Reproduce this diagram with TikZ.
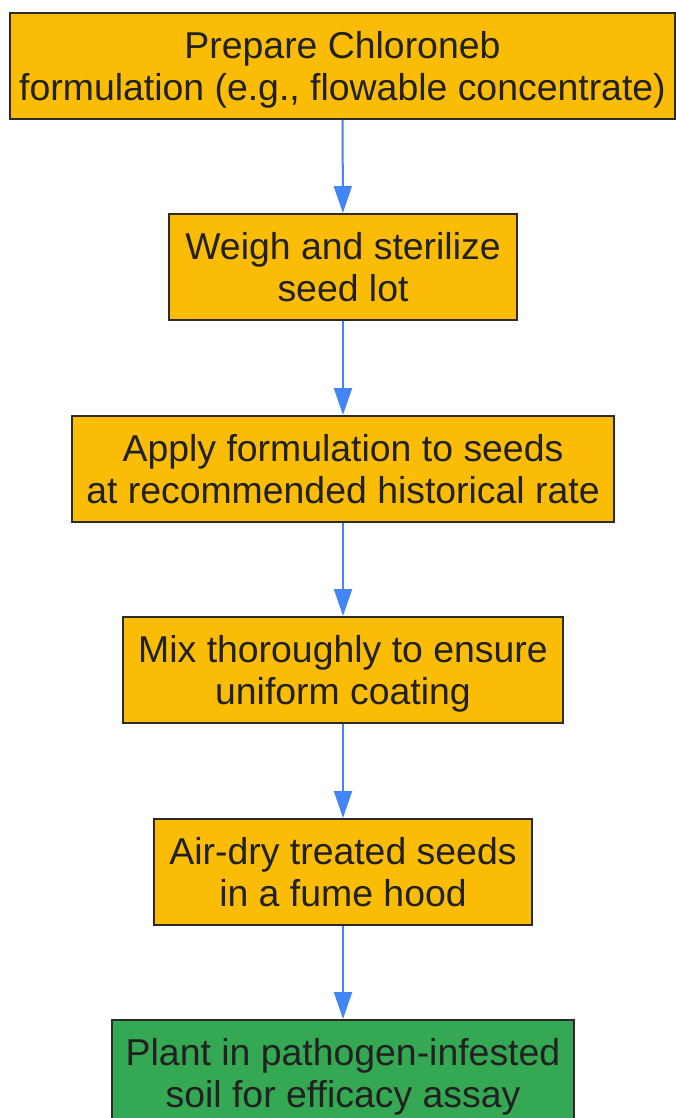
\documentclass[tikz,border=0pt]{standalone}
\usepackage{xcolor}
\usepackage{fontspec}
\setmainfont{Liberation Sans}
\usetikzlibrary{arrows.meta}

\definecolor{stepyellow}{HTML}{FBBC05}
\definecolor{stepgreen}{HTML}{34A853}
\definecolor{flowblue}{HTML}{4285F4}
\definecolor{edgegray}{HTML}{2B2B2B}
\definecolor{textgray}{HTML}{212121}

\tikzset{
	stepbox/.style={draw=edgegray, line width=2pt, fill=stepyellow, text=textgray,
		align=center, inner sep=0pt, minimum height=106pt, text depth=-1pt,
		font=\fontsize{37.4}{41.5}\selectfont},
	flow/.style={draw=flowblue, line width=2pt, -{Triangle[length=27pt,width=18pt]}}
}

\begin{document}
\begin{tikzpicture}[x=1pt,y=-1pt]
				\useasboundingbox (0,0) rectangle (675,1118);
				
				\node[stepbox, minimum width=665pt] (prep) at (342.5,66) {Prepare Chloroneb\\formulation (e.g., flowable concentrate)};
				\node[stepbox, minimum width=348pt] (weigh) at (343,267) {Weigh and sterilize\\seed lot};
				\node[stepbox, minimum width=542pt] (apply) at (343,469) {Apply formulation to seeds\\at recommended historical rate};
				\node[stepbox, minimum width=440pt] (mix) at (343,670) {Mix thoroughly to ensure\\uniform coating};
				\node[stepbox, minimum width=378pt] (dry) at (343,872) {Air-dry treated seeds\\in a fume hood};
				\node[stepbox, minimum width=462pt, fill=stepgreen] (plant) at (343,1073) {Plant in pathogen-infested\\soil for efficacy assay};
				
				\draw[flow] (prep) -- (weigh);
				\draw[flow] (weigh) -- (apply);
				\draw[flow] (apply) -- (mix);
				\draw[flow] (mix) -- (dry);
				\draw[flow] (dry) -- (plant);
			\end{tikzpicture}
\end{document}
